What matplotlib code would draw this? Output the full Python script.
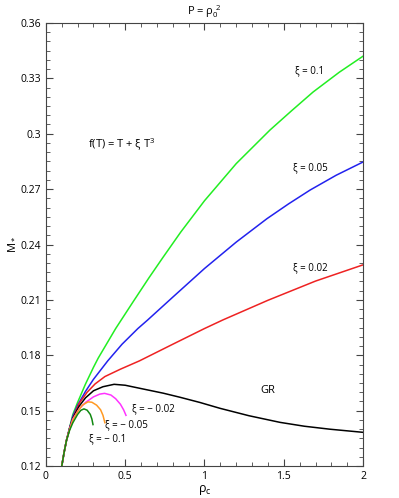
import numpy as np
import matplotlib.pyplot as plt
from matplotlib.ticker import MultipleLocator

# curves (rho_c, M)
x_p01 = [0.1, 0.115, 0.13, 0.15, 0.17, 0.2, 0.25, 0.3, 0.33, 0.44, 0.55, 0.65, 0.738,
         0.85, 1.0, 1.2, 1.413, 1.55, 1.685, 1.85, 2.0]
y_p01 = [0.12, 0.1275, 0.134, 0.141, 0.148, 0.1545, 0.1645, 0.1735, 0.1785, 0.1945, 0.209,
         0.222, 0.233, 0.2467, 0.2637, 0.2838, 0.302, 0.3125, 0.3226, 0.3333, 0.342]
x_p005 = [0.1, 0.115, 0.13, 0.15, 0.17, 0.2, 0.25, 0.3, 0.39, 0.48, 0.58, 0.64, 0.8, 1.0,
          1.2, 1.394, 1.53, 1.666, 1.83, 2.0]
y_p005 = [0.12, 0.1275, 0.134, 0.1408, 0.147, 0.153, 0.1605, 0.167, 0.177, 0.186, 0.1945,
          0.199, 0.2115, 0.227, 0.2413, 0.254, 0.262, 0.2695, 0.2775, 0.2847]
x_p002 = [0.1, 0.115, 0.13, 0.15, 0.17, 0.21, 0.26, 0.31, 0.372, 0.47, 0.59, 0.8, 1.0,
          1.117, 1.4, 1.7, 2.0]
y_p002 = [0.12, 0.1275, 0.134, 0.1405, 0.146, 0.154, 0.160, 0.1645, 0.1685, 0.1725, 0.177,
          0.186, 0.1945, 0.1992, 0.2098, 0.2202, 0.229]
x_gr = [0.1, 0.115, 0.13, 0.15, 0.17, 0.21, 0.25, 0.3, 0.36, 0.43, 0.5, 0.6, 0.74, 0.845,
        0.97, 1.098, 1.28, 1.476, 1.63, 1.79, 2.0]
y_gr = [0.12, 0.1275, 0.134, 0.1405, 0.146, 0.1525, 0.157, 0.1608, 0.163, 0.1643, 0.1638,
        0.162, 0.1595, 0.1573, 0.1545, 0.1513, 0.1473, 0.1437, 0.1416, 0.140, 0.1383]
x_m002 = [0.1, 0.115, 0.13, 0.15, 0.17, 0.21, 0.25, 0.3, 0.34, 0.37, 0.41, 0.44, 0.47,
          0.49, 0.505]
y_m002 = [0.12, 0.1275, 0.134, 0.1403, 0.1455, 0.151, 0.1545, 0.1575, 0.159, 0.1594,
          0.1585, 0.1565, 0.1535, 0.1505, 0.1475]
x_m005 = [0.1, 0.115, 0.13, 0.15, 0.17, 0.2, 0.23, 0.265, 0.29, 0.32, 0.345, 0.36, 0.372]
y_m005 = [0.12, 0.1275, 0.134, 0.14, 0.145, 0.1495, 0.153, 0.1548, 0.1546, 0.153, 0.1505,
          0.1475, 0.1435]
x_m01 = [0.1, 0.115, 0.13, 0.15, 0.17, 0.2, 0.22, 0.24, 0.26, 0.28, 0.29, 0.297]
y_m01 = [0.12, 0.1275, 0.134, 0.1395, 0.1435, 0.148, 0.1502, 0.151, 0.1503, 0.148,
         0.1455, 0.1425]

plt.rcParams['font.family'] = ['Open Sans', 'DejaVu Sans']
plt.rcParams['mathtext.fontset'] = 'custom'
plt.rcParams['mathtext.rm'] = 'Open Sans'
plt.rcParams['mathtext.it'] = 'Open Sans'

fig = plt.figure(figsize=(3.99, 4.98), dpi=100)
ax = fig.add_axes([0.115, 0.064, 0.795, 0.89])

lw = 1.1
ax.plot(x_p01, y_p01, color='#22ee22', lw=lw)
ax.plot(x_p005, y_p005, color='#2222ee', lw=lw)
ax.plot(x_p002, y_p002, color='#ee2222', lw=lw)
ax.plot(x_gr, y_gr, color='black', lw=lw)
ax.plot(x_m002, y_m002, color='#ff33ff', lw=lw)
ax.plot(x_m005, y_m005, color='#ff9922', lw=lw)
ax.plot(x_m01, y_m01, color='#118811', lw=lw)

ax.set_xlim(0, 2)
ax.set_ylim(0.12, 0.36)
ax.xaxis.set_minor_locator(MultipleLocator(0.1))
ax.yaxis.set_minor_locator(MultipleLocator(0.005))
ax.set_xticks([0, 0.5, 1, 1.5, 2], ['0', '0.5', '1', '1.5', '2'])
ax.set_yticks([0.12, 0.15, 0.18, 0.21, 0.24, 0.27, 0.3, 0.33, 0.36],
              ['0.12', '0.15', '0.18', '0.21', '0.24', '0.27', '0.3', '0.33', '0.36'])
ax.tick_params(which='both', direction='in', top=True, right=True, labelsize=7.5,
               color='#444444')
ax.tick_params(which='major', length=5)
ax.tick_params(which='minor', length=3)
for s in ax.spines.values():
    s.set_color('#444444')

ax.set_title(r'P = ρ$_0^{\ 2}$', fontsize=8, pad=6)
ax.set_xlabel(r'ρ$_{\rm c}$', fontsize=9, labelpad=1)
ax.set_ylabel(r'M$_*$', fontsize=8, labelpad=2)

fs = 7
ax.text(0.265, 0.294, r'f(T) = T + ξ T$^3$', fontsize=8, va='center')
ax.text(1.57, 0.334, 'ξ = 0.1', fontsize=fs, va='center')
ax.text(1.56, 0.2814, 'ξ = 0.05', fontsize=fs, va='center')
ax.text(1.56, 0.2272, 'ξ = 0.02', fontsize=fs, va='center')
ax.text(1.35, 0.161, 'GR', fontsize=8, va='center')
ax.text(0.54, 0.1508, 'ξ = − 0.02', fontsize=fs, va='center')
ax.text(0.37, 0.1426, 'ξ = − 0.05', fontsize=fs, va='center')
ax.text(0.27, 0.135, 'ξ = − 0.1', fontsize=fs, va='center')

fig.savefig('out.png', dpi=100)
